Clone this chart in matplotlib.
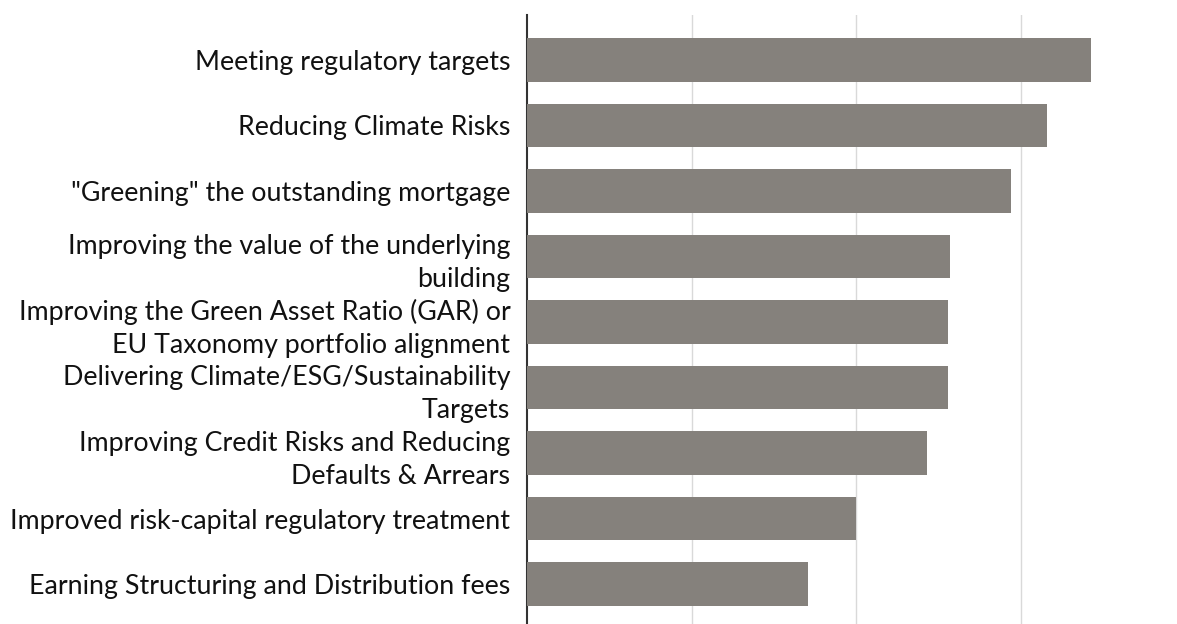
import matplotlib
matplotlib.use("Agg")
import matplotlib.pyplot as plt

categories = [
    "Meeting regulatory targets",
    "Reducing Climate Risks",
    "\"Greening\" the outstanding mortgage",
    "Improving the value of the underlying\nbuilding",
    "Improving the Green Asset Ratio (GAR) or\nEU Taxonomy portfolio alignment",
    "Delivering Climate/ESG/Sustainability\nTargets",
    "Improving Credit Risks and Reducing\nDefaults & Arrears",
    "Improved risk-capital regulatory treatment",
    "Earning Structuring and Distribution fees",
]
values = [34.3, 31.6, 29.4, 25.7, 25.6, 25.6, 24.3, 20.0, 17.1]

W, H = 1177, 624
fig = plt.figure(figsize=(W / 100, H / 100), dpi=100)
ax_left = 527 / W
ax_top = 15
ax_bottom = 632
ax = fig.add_axes([ax_left, 1 - ax_bottom / H, 1 - ax_left, (ax_bottom - ax_top) / H])

spacing = 65.5
y = list(range(len(categories)))
ax.barh(y, values, height=0.66, color="#85817c", zorder=3)

# y-limits mapped from pixel geometry
top_units = (60 - ax_top) / spacing
bot_units = (ax_bottom - 584) / spacing
ax.set_ylim(len(categories) - 1 + bot_units, -top_units)
ax.set_xlim(0, (W - 527) / 164.5 * 10)

ax.set_xticks([10, 20, 30])
ax.set_xticklabels([])
ax.tick_params(axis="x", length=0)
ax.grid(axis="x", color="#d9d9d9", linewidth=1.0, zorder=0)

ax.set_yticks(y)
ax.set_yticklabels(categories, fontsize=19.3, family="Lato", linespacing=1.4,
                   color="#111111")
ax.tick_params(axis="y", length=0, pad=12)

for s in ["top", "right", "bottom"]:
    ax.spines[s].set_visible(False)
ax.spines["left"].set_color("#333333")
ax.spines["left"].set_linewidth(1.5)

fig.savefig("out.png", dpi=100)
